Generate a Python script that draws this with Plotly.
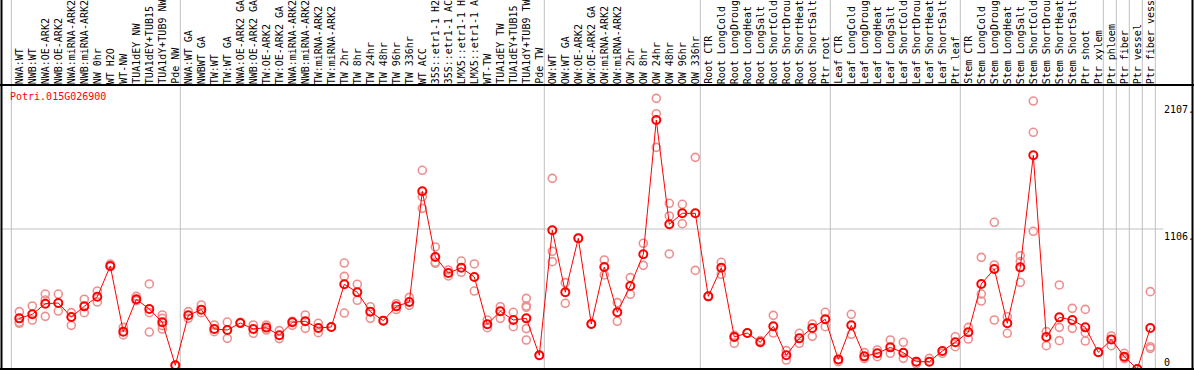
import plotly.graph_objects as go

gene = "Potri.015G026900"

labels = [
    "NWA:WT", "NWB:WT", "NWA:OE-ARK2", "NWB:OE-ARK2", "NWA:miRNA-ARK2", "NWB:miRNA-ARK2",
    "NW 0hr", "WT H2O", "WT-NW", "TUA1dEY NW", "TUA1dEY+TUB15", "TUA1dY+TUB9 NW", "Pde NW",
    "NWA:WT GA", "NWBWT GA", "TW:WT", "TW:WT GA", "NWA:OE-ARK2 GA", "NWB:OE-ARK2 GA",
    "TW:OE-ARK2", "TW:OE-ARK2 GA", "NWA:miRNA-ARK2", "NWB:miRNA-ARK2", "TW:miRNA-ARK2",
    "TW:miRNA-ARK2", "TW 2hr", "TW 8hr", "TW 24hr", "TW 48hr", "TW 96hr", "TW 336hr", "WT ACC",
    "35S::etr1-1 H2O", "35S::etr1-1 ACC", "LMX5::etr1-1 H2O", "LMX5::etr1-1 ACC", "WT-TW",
    "TUA1dEY TW", "TUA1dEY+TUB15 TW", "TUA1dY+TUB9 TW", "Pde TW",
    "OW:WT", "OW:WT GA", "OW:OE-ARK2", "OW:OE-ARK2 GA", "OW:miRNA-ARK2", "OW:miRNA-ARK2",
    "OW 2hr", "OW 8hr", "OW 24hr", "OW 48hr", "OW 96hr", "OW 336hr",
    "Root CTR", "Root LongCold", "Root LongDrought", "Root LongHeat", "Root LongSalt",
    "Root ShortCold", "Root ShortDrought", "Root ShortHeat", "Root ShortSalt", "Ptr root",
    "Leaf CTR", "Leaf LongCold", "Leaf LongDrought", "Leaf LongHeat", "Leaf LongSalt",
    "Leaf ShortCold", "Leaf ShortDrought", "Leaf ShortHeat", "Leaf ShortSalt", "Ptr leaf",
    "Stem CTR", "Stem LongCold", "Stem LongDrought", "Stem LongHeat", "Stem LongSalt",
    "Stem ShortCold", "Stem ShortDrought", "Stem ShortHeat", "Stem ShortSalt", "Ptr shoot",
    "Ptr xylem", "Ptr phloem", "Ptr fiber", "Ptr vessel", "Ptr fiber vessel",
]

group_sizes = [13, 28, 12, 10, 10, 11, 1, 1, 1, 1]

means = [
    400, 432, 516, 521, 411, 495, 571, 814, 295, 551, 474, 369, 29,
    424, 469, 316, 308, 363, 316, 327, 266, 369, 377, 324, 332, 669, 606, 453, 382, 495,
    529, 1404, 885, 758, 800, 727, 353, 456, 387, 400, 108,
    1096, 606, 1033, 355, 806, 448, 656, 906, 1967, 1143, 1230, 1230,
    574, 800, 253, 284, 211, 337, 108, 242, 324, 393,
    76, 345, 100, 124, 171, 129, 58, 58, 142, 211,
    290, 672, 790, 361, 803, 1688, 253, 408, 387, 329,
    132, 234, 97, 0, 324,
]

reps = [
    [453, 369, 361], [498, 387], [592, 545, 416], [592, 458], [445, 345], [551, 445],
    [616, 529], [829, 808], [329, 269], [574, 540], [672, 445, 292], [427, 400, 343, 316], [29],
    [453, 400], [506, 445], [348, 295], [371, 242], [369, 361], [348, 282], [348, 308],
    [303, 240], [377, 345], [427, 321], [361, 287], [332], [837, 732, 442], [669, 543],
    [492, 400], [382], [516, 470], [566, 503], [1570, 1361, 1269], [964, 843, 835],
    [782, 735], [853, 764], [830, 616], [387, 326], [492, 400], [448, 334],
    [558, 498, 487, 319, 229], [108],
    [1506, 930, 848], [682, 519], [1033], [355], [861, 743], [524, 377], [722, 590],
    [993, 819], [2138, 2017, 1751], [1309, 1209, 909], [1301, 1148], [1672, 779],
    [574], [843, 748], [266, 203], [284], [224], [424, 284], [145, 71], [282, 203],
    [355, 258], [448, 334],
    [58], [432, 274], [129, 82], [150, 97], [229, 124], [211, 84], [58, 40], [84],
    [124], [255, 176],
    [329, 237], [882, 592, 537], [1159, 822, 387], [413, 282], [895, 848, 685],
    [2117, 1870, 1088], [295, 184], [664, 329, 224], [479, 321], [471, 287, 221],
    [132], [261, 184], [124, 82], [0], [611, 176, 163],
]

y_tick_vals = [2107, 1106, 0]
y_tick_text = ["2107.", "1106.", "0"]

# ---- layout geometry (pixels) ----
W, H = 1194, 370
COL = 13.0          # px per column
X0PX = 19.3         # px of first column centre
TOP, BOT = 85, 369  # plot area top / bottom in px
PX_PER_UNIT = 140.0 / 1106.0

n = len(labels)
xs = list(range(n))
x_range = [-X0PX / COL, (W - X0PX) / COL]
y_range = [0, (BOT - TOP) / PX_PER_UNIT]

FONT = "DejaVu Sans Mono"
GRID = "#c0c0c0"

fig = go.Figure()

rx, ry = [], []
for i, r in enumerate(reps):
    for v in r:
        rx.append(i)
        ry.append(v)

fig.add_trace(go.Scatter(
    x=rx, y=ry, mode="markers",
    marker=dict(symbol="circle-open", size=8, color="#ee8f8f", line=dict(width=1.6, color="#ee8f8f")),
    hoverinfo="skip", showlegend=False,
))
fig.add_trace(go.Scatter(
    x=xs, y=means, mode="lines+markers",
    line=dict(color="#ff0000", width=1),
    marker=dict(symbol="circle-open", size=8, color="#ff0000", line=dict(width=2, color="#ff0000")),
    showlegend=False,
))

shapes = []
# group separators
starts = [0]
for g in group_sizes:
    starts.append(starts[-1] + g)
for s in starts:
    xv = s - 8.0 / COL
    shapes.append(dict(type="line", xref="x", yref="paper", x0=xv, x1=xv, y0=0, y1=1,
                       line=dict(color=GRID, width=1), layer="below"))
# horizontal grid at middle tick
shapes.append(dict(type="line", xref="x", yref="y", x0=x_range[0], x1=n, y0=y_tick_vals[1], y1=y_tick_vals[1],
                   line=dict(color=GRID, width=1), layer="below"))
# black frame lines
ytop = (H - TOP) / H
ybot = (H - BOT) / H
shapes += [
    dict(type="line", xref="paper", yref="paper", x0=0, x1=1, y0=ytop, y1=ytop, line=dict(color="black", width=2)),
    dict(type="line", xref="paper", yref="paper", x0=0, x1=1, y0=ybot, y1=ybot, line=dict(color="black", width=2)),
    dict(type="line", xref="paper", yref="paper", x0=1.5 / W, x1=1.5 / W, y0=0, y1=1, line=dict(color="black", width=2)),
    dict(type="line", xref="paper", yref="paper", x0=(W - 1.5) / W, x1=(W - 1.5) / W, y0=0, y1=1, line=dict(color="black", width=2)),
]

annotations = []
lab_y = (H - 85) / H
for i, lab in enumerate(labels):
    annotations.append(dict(x=i, y=lab_y, xref="x", yref="paper", text=lab, textangle=-90,
                            showarrow=False, xanchor="center", yanchor="bottom",
                            font=dict(family=FONT, size=10, color="black"), borderpad=0))
# gene title
annotations.append(dict(x=9 / W, y=(H - 90) / H, xref="paper", yref="paper", text=gene,
                        showarrow=False, xanchor="left", yanchor="top",
                        font=dict(family=FONT, size=10, color="#ff0000"), borderpad=0))
# right-side value labels
for v, t in zip(y_tick_vals, y_tick_text):
    annotations.append(dict(x=n, y=v, xref="x", yref="y", text=t, showarrow=False,
                            xanchor="left", yanchor="bottom" if v == 0 else "top",
                            yshift=0 if v == 0 else -1,
                            font=dict(family=FONT, size=10, color="black"), borderpad=0))

fig.update_layout(
    width=W, height=H,
    margin=dict(l=0, r=0, t=0, b=0),
    paper_bgcolor="white", plot_bgcolor="white",
    xaxis=dict(range=x_range, domain=[0, 1], visible=False, fixedrange=True),
    yaxis=dict(range=y_range, domain=[ybot, ytop], visible=False, fixedrange=True),
    shapes=shapes, annotations=annotations,
    showlegend=False,
)

fig.write_html(
    "out.html",
    config={"displayModeBar": False},
    post_script="document.body.style.margin='0';document.body.style.overflow='hidden';",
)
